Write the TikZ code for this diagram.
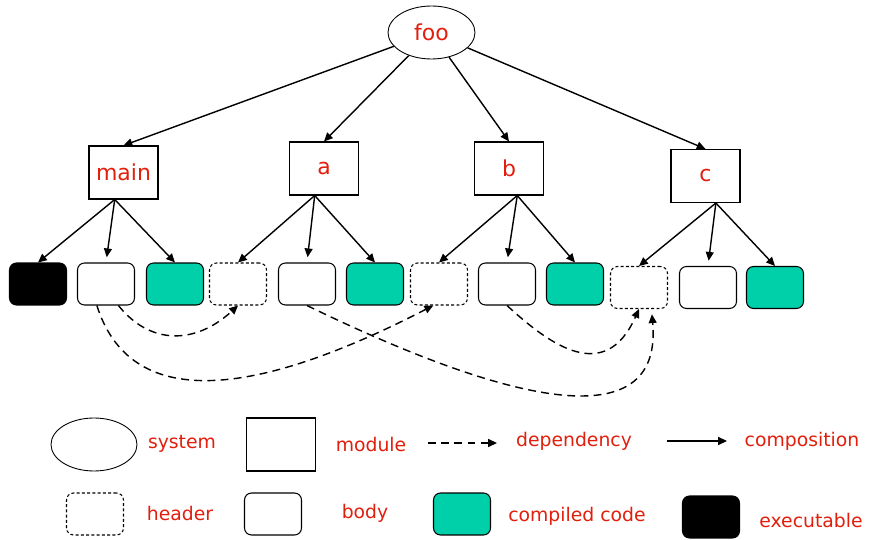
\documentclass[tikz,border=0pt]{standalone}
\usepackage{fontspec}
\setmainfont{DejaVu Sans}
\usetikzlibrary{shapes.geometric,arrows.meta}

\definecolor{lblred}{RGB}{226,30,12}
\definecolor{objgreen}{RGB}{0,208,170}

\tikzset{
	comp/.style={-{Triangle[length=5pt,width=4.5pt]}, line width=0.8pt},
	dep/.style={-{Triangle[length=5pt,width=4.5pt]}, line width=0.8pt, dash pattern=on 4.5pt off 3pt},
	sysnode/.style={ellipse, draw, line width=0.5pt, minimum width=1.74cm, minimum height=1.06cm, inner sep=0pt},
	modnode/.style={rectangle, draw, line width=0.6pt, minimum width=1.38cm, minimum height=1.06cm, inner sep=0pt},
	objbox/.style={rectangle, rounded corners=4pt, draw, line width=0.6pt, minimum width=1.14cm, minimum height=0.84cm, inner sep=0pt},
	hdrbox/.style={objbox, dash pattern=on 1.7pt off 1.3pt},
	bodybox/.style={objbox, fill=white},
	codebox/.style={objbox, fill=objgreen},
	exebox/.style={objbox, fill=black},
	lbl/.style={text=lblred, font=\fontsize{12.5}{15}\selectfont},
	keylbl/.style={text=lblred, font=\fontsize{10.7}{13}\selectfont, inner sep=0pt}
}

\begin{document}
\begin{tikzpicture}[x=0.02cm, y=-0.02cm]
		\useasboundingbox (0,0) rectangle (869,540);
		
		%system and modules
		\node[sysnode, lbl] (foo) at (431.5, 32.5) {foo};
		\node[modnode, lbl] (modmain) at (123.5, 172.5) {main};
		\node[modnode, lbl] (moda) at (324, 168.5) {a};
		\node[modnode, lbl] (modb) at (509, 168.5) {b};
		\node[modnode, lbl] (modc) at (705.5, 176) {c};
		\foreach \m in {modmain, moda, modb, modc}{
			\draw[comp] (foo) -- (\m.north);
		}
		
		%headers, bodies, compiled code
		\foreach \n/\x/\y/\s in {exe/38/284/exebox, bmain/106/284/bodybox, cmain/175/284/codebox,
			ha/238/284/hdrbox, ba/307/284/bodybox, ca/375/284/codebox,
			hb/439/284/hdrbox, bb/507/284/bodybox, cb/575/284/codebox,
			hc/639/287.5/hdrbox, bc/708/287.5/bodybox, cc/775/287.5/codebox}{
			\node[\s] (\n) at (\x, \y) {};
		}
		
		\foreach \m/\ang/\l/\mid/\r in {modmain/-108/exe/bmain/cmain, moda/-109/ha/ba/ca,
			modb/-73/hb/bb/cb, modc/-69/hc/bc/cc}{
			\draw[comp] (\m.\ang) -- (\l.north);
			\draw[comp, shorten >=3pt] (\m.\ang) -- (\mid.north);
			\draw[comp] (\m.\ang) -- (\r.north);
		}
		
		%dependencies
		\draw[dep] (bmain.-60) .. controls (150, 345) and (195, 345) .. (ha.south);
		\draw[dep] (bmain.-113) .. controls (130, 410) and (250, 400) .. (hb.-105);
		\draw[dep, shorten >=3pt] (ba.south) .. controls (450, 375) and (665, 460) .. (hc.-60);
		\draw[dep] (bb.south) .. controls (550, 345) and (605, 385) .. (hc.south);
		
		%legend
		\node[sysnode, minimum width=1.72cm] (lgsys) at (94, 444.5) {};
		\node[keylbl] (lgsystxt) at (182, 444) {system};
		\node[modnode] (lgmod) at (281, 444.5) {};
		\node[keylbl] (lgmodtxt) at (371, 444) {module};
		\coordinate (depl) at (428, 443);
		\coordinate (depr) at (497, 443);
		\draw[dep] (depl) -- (depr);
		\node[keylbl] (lgdeptxt) at (574, 441) {dependency};
		\coordinate (compl) at (667, 441);
		\coordinate (compr) at (727, 441);
		\draw[comp] (compl) -- (compr);
		\node[keylbl] (lgcomptxt) at (802, 441) {composition};
		
		\node[hdrbox] (lghdr) at (95, 514) {};
		\node[keylbl] (lghdrtxt) at (180, 513) {header};
		\node[bodybox] (lgbody) at (273, 514) {};
		\node[keylbl] (lgbodytxt) at (365, 513) {body};
		\node[codebox] (lgcode) at (462, 514) {};
		\node[keylbl] (lgcodetxt) at (577, 516) {compiled code};
		\node[exebox] (lgexe) at (711, 517) {};
		\node[keylbl] (lgexetxt) at (811, 520) {executable};
\end{tikzpicture}
\end{document}
